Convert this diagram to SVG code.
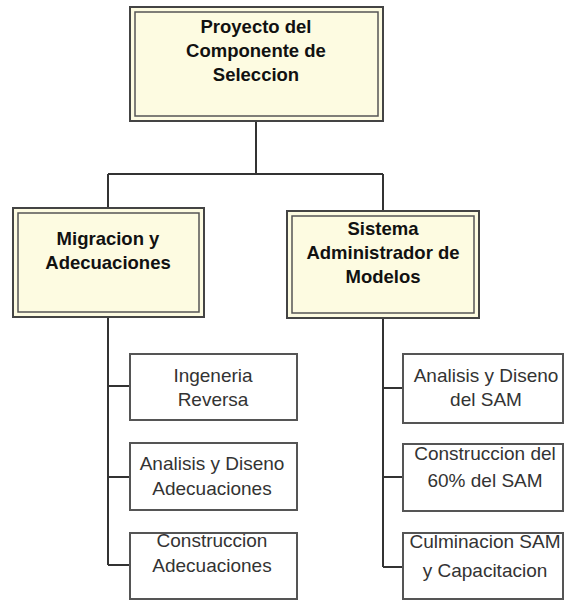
<svg xmlns="http://www.w3.org/2000/svg" width="565" height="601" viewBox="0 0 565 601">
  <style>
    .outer { fill: #fdfbe1; stroke: #444; stroke-width: 2; }
    .inner { fill: none; stroke: #555; stroke-width: 1.5; }
    .task { fill: #fff; stroke: #555; stroke-width: 2; }
    .link { fill: none; stroke: #333; stroke-width: 2; }
    .head { font-family: "Liberation Sans", Arial, sans-serif; font-weight: bold; font-size: 18.5px; fill: #111; text-anchor: middle; }
    .item { font-family: "Liberation Sans", Arial, sans-serif; font-size: 19px; fill: #333; text-anchor: middle; }
  </style>
  <rect x="0" y="0" width="565" height="601" fill="#fff"/>

  <g id="connectors">
    <path class="link" d="M256 121 V174 M108 174 H383 M108 174 V208 M383 174 V211"/>
    <path class="link" d="M108 317 V565 M108 386 H130 M108 477 H130 M108 565 H130"/>
    <path class="link" d="M383 318 V567 M383 388 H403 M383 477 H403 M383 567 H403"/>
  </g>

  <g id="proyecto">
    <rect class="outer" x="130" y="7" width="253" height="114"/>
    <rect class="inner" x="135" y="12" width="243" height="104"/>
    <text class="head" x="256" y="33">Proyecto del</text>
    <text class="head" x="256" y="57">Componente de</text>
    <text class="head" x="256" y="81">Seleccion</text>
  </g>

  <g id="migracion">
    <rect class="outer" x="13" y="208" width="191" height="109"/>
    <rect class="inner" x="18" y="213" width="181" height="99"/>
    <text class="head" x="108" y="245">Migracion y</text>
    <text class="head" x="108" y="269">Adecuaciones</text>
  </g>

  <g id="sistema">
    <rect class="outer" x="287" y="211" width="192" height="107"/>
    <rect class="inner" x="292" y="216" width="182" height="97"/>
    <text class="head" x="383" y="235">Sistema</text>
    <text class="head" x="383" y="259">Administrador de</text>
    <text class="head" x="383" y="283">Modelos</text>
  </g>

  <g id="ingenieria">
    <rect class="task" x="130" y="354" width="167" height="66"/>
    <text class="item" x="213" y="382">Ingeneria</text>
    <text class="item" x="213" y="406">Reversa</text>
  </g>

  <g id="analisis-adecuaciones">
    <rect class="task" x="130" y="443" width="167" height="67"/>
    <text class="item" x="212" y="470">Analisis y Diseno</text>
    <text class="item" x="212" y="495">Adecuaciones</text>
  </g>

  <g id="construccion-adecuaciones">
    <text class="item" x="212" y="547">Construccion</text>
    <text class="item" x="212" y="572">Adecuaciones</text>
    <rect class="task" x="130" y="533" width="167" height="66" style="fill:none"/>
  </g>

  <g id="analisis-sam">
    <rect class="task" x="403" y="354" width="160" height="69"/>
    <text class="item" x="486" y="382">Analisis y Diseno</text>
    <text class="item" x="486" y="406">del SAM</text>
  </g>

  <g id="construccion-sam">
    <text class="item" x="485" y="460">Construccion del</text>
    <text class="item" x="485" y="487">60% del SAM</text>
    <rect class="task" x="403" y="444" width="160" height="67" style="fill:none"/>
  </g>

  <g id="culminacion-sam">
    <text class="item" x="485" y="548">Culminacion SAM</text>
    <text class="item" x="485" y="577">y Capacitacion</text>
    <rect class="task" x="403" y="533" width="160" height="66" style="fill:none"/>
  </g>
</svg>
